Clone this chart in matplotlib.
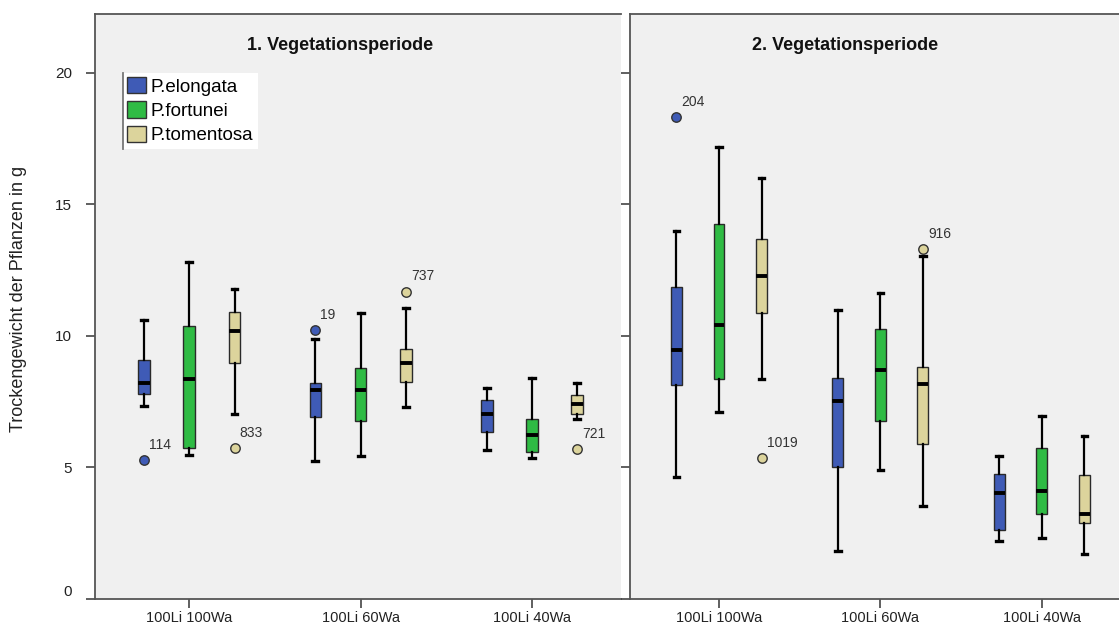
import matplotlib.pyplot as plt
from matplotlib.lines import Line2D
from matplotlib.patches import Patch

plt.rcParams['font.family'] = ['Liberation Sans', 'DejaVu Sans']

categories = ['100Li 100Wa', '100Li 60Wa', '100Li 40Wa']
species = ['P.elongata', 'P.fortunei', 'P.tomentosa']
colors = ['#3f5bb6', '#2fbb44', '#dcd49c']
titles = ['1. Vegetationsperiode', '2. Vegetationsperiode']

# 1. Vegetationsperiode: one list per species, values per category
p1_whislo = [[7.33, 5.26, 5.66], [5.47, 5.43, 5.35], [7.03, 7.30, 6.83]]
p1_q1 = [[7.78, 6.90, 6.36], [5.72, 6.78, 5.57], [8.95, 8.26, 7.03]]
p1_med = [[8.20, 7.94, 7.02], [8.37, 7.94, 6.22], [10.20, 8.95, 7.40]]
p1_q3 = [[9.10, 8.22, 7.56], [10.36, 8.76, 6.84], [10.90, 9.49, 7.75]]
p1_whishi = [[10.60, 9.88, 8.00], [12.82, 10.85, 8.38], [11.77, 11.04, 8.19]]
# (species, category, value, case number)
p1_outliers = [(0, 0, 5.27, '114'), (2, 0, 5.72, '833'), (0, 1, 10.22, '19'),
               (2, 1, 11.68, '737'), (2, 2, 5.70, '721')]

# 2. Vegetationsperiode
p2_whislo = [[4.65, 1.84, 2.20], [7.09, 4.89, 2.31], [8.35, 3.55, 1.71]]
p2_q1 = [[8.13, 5.03, 2.63], [8.37, 6.76, 3.23], [10.88, 5.88, 2.90]]
p2_med = [[9.46, 7.51, 4.04], [10.41, 8.69, 4.12], [12.28, 8.17, 3.22]]
p2_q3 = [[11.87, 8.41, 4.75], [14.24, 10.26, 5.74], [13.68, 8.83, 4.72]]
p2_whishi = [[13.98, 10.98, 5.45], [17.17, 11.61, 6.97], [15.98, 13.03, 6.19]]
p2_outliers = [(0, 0, 18.30, '204'), (2, 0, 5.35, '1019'), (2, 1, 13.30, '916')]

panels = [
    (p1_whislo, p1_q1, p1_med, p1_q3, p1_whishi, p1_outliers),
    (p2_whislo, p2_q1, p2_med, p2_q3, p2_whishi, p2_outliers),
]

W, H = 1119, 625
fig = plt.figure(figsize=(W / 100, H / 100), dpi=100)
# pixel boxes (left, right) of the two panels, top 14 px, bottom 599 px
boxes_px = [(95.4, 620.7), (630.4, 1126.0)]
xlims = [(-0.548, 2.518), (-0.549, 2.522)]
title_x_px = [340, 845]
offset = 0.264

axes = []
for i, (whislo, q1, med, q3, whishi, outliers) in enumerate(panels):
    l, r = boxes_px[i]
    ax = fig.add_axes([l / W, (H - 599) / H, (r - l) / W, (599 - 14) / H])
    axes.append(ax)
    ax.set_facecolor('#f0f0f0')

    for s in range(3):
        stats = []
        for g in range(3):
            fl = [v for (os_, og, v, _) in outliers if os_ == s and og == g]
            stats.append(dict(whislo=whislo[s][g], q1=q1[s][g], med=med[s][g],
                              q3=q3[s][g], whishi=whishi[s][g], fliers=fl))
        pos = [g + (s - 1) * offset for g in range(3)]
        ax.bxp(stats, positions=pos, widths=0.068, patch_artist=True,
               showfliers=True, manage_ticks=False,
               boxprops=dict(facecolor=colors[s], edgecolor='#2a2a2a', linewidth=1.0),
               medianprops=dict(color='black', linewidth=2.8, solid_capstyle='butt'),
               whiskerprops=dict(color='black', linewidth=1.6),
               capprops=dict(color='black', linewidth=2.4),
               flierprops=dict(marker='o', markersize=6.8, markerfacecolor=colors[s],
                               markeredgecolor='#333333', markeredgewidth=1.0))

    for (s, g, v, lab) in outliers:
        ax.annotate(lab, xy=(g + (s - 1) * offset, v), xytext=(3.6, 11),
                    textcoords='offset points', ha='left', va='center',
                    fontsize=10, color='#333333')

    ax.set_xlim(*xlims[i])
    ax.set_ylim(0, 22.23)
    ax.set_xticks(range(3))
    ax.set_xticklabels(categories, fontsize=10.5, color='#222222')
    ax.set_yticks([0, 5, 10, 15, 20])
    ax.tick_params(axis='both', direction='out', length=6.8, width=1.2, color='#444444')
    ax.tick_params(axis='x', pad=1.5)
    ax.tick_params(axis='y', pad=10, labelsize=11, labelcolor='#222222')
    for side in ['top', 'left', 'bottom']:
        ax.spines[side].set_color('#555555')
        ax.spines[side].set_linewidth(1.3)
    ax.spines['right'].set_visible(False)

    fig.text(title_x_px[i] / W, 1 - 46 / H, titles[i], ha='center', va='center',
             fontsize=13, fontweight='bold', color='#111111')

axes[1].set_yticklabels([])
for lab in axes[0].get_yticklabels():
    if lab.get_text() == '0':
        lab.set_verticalalignment('bottom')

axes[0].set_ylabel('Trockengewicht der Pflanzen in g', fontsize=13, color='#222222')
axes[0].yaxis.set_label_coords(27 / W, 1 - 299 / H, transform=fig.transFigure)

handles = [Patch(facecolor=c, edgecolor='#333333', linewidth=1.0) for c in colors]
leg = axes[0].legend(handles, species, loc='upper left',
                     bbox_to_anchor=(0.052, 0.900), borderaxespad=0,
                     fontsize=13.5, frameon=True, fancybox=False, framealpha=1,
                     facecolor='white', edgecolor='none', borderpad=0.25,
                     handlelength=1.0, handleheight=0.95, handletextpad=0.25,
                     labelspacing=0.3)
fig.canvas.draw()
bb = leg.get_window_extent().transformed(fig.transFigure.inverted())
fig.add_artist(Line2D([bb.x0, bb.x0], [bb.y0, bb.y1], color='#777777',
                      linewidth=1.3, transform=fig.transFigure))

fig.savefig('out.png', dpi=100)
